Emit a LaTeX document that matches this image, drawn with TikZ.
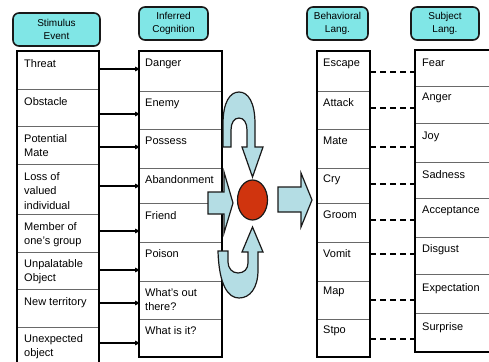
\documentclass[tikz,border=0pt]{standalone}
\usepackage{fontspec}
\setmainfont{Liberation Sans}
\usetikzlibrary{arrows.meta,shapes.geometric}

\definecolor{headfill}{RGB}{128,230,230}
\definecolor{arrowfill}{RGB}{180,221,228}
\definecolor{dotred}{RGB}{208,52,14}
\definecolor{edge}{RGB}{25,25,25}
\definecolor{sepgray}{RGB}{105,105,105}

\tikzset{
  header/.style={draw=edge, line width=1.6pt, fill=headfill, rounded corners=6pt,
    align=center, inner sep=0pt, font=\fontsize{10}{12.5}\selectfont},
  colframe/.style={draw=black, line width=1.8pt},
  rowsep/.style={draw=sepgray, line width=0.8pt},
  entry/.style={anchor=north west, inner sep=0pt, align=left,
    font=\fontsize{11}{14.5}\selectfont},
  link/.style={line width=1.2pt, -{Triangle[length=5pt,width=4.5pt]}},
  pair/.style={line width=1.8pt, dash pattern=on 6pt off 4pt},
  blockarrow/.style={draw=edge, line width=1.2pt, fill=arrowfill, line join=miter},
}

\begin{document}
\begin{tikzpicture}[x=1pt,y=-1pt]
\useasboundingbox (0,0) rectangle (489,361);
\clip (0,0) rectangle (489,361);

% column headings
\node[header, minimum width=87pt, minimum height=33pt] (hstim) at (56.5,29.5) {Stimulus\\Event};
\node[header, minimum width=69pt, minimum height=33pt] (hcog)  at (173.5,23.5) {Inferred\\Cognition};
\node[header, minimum width=61pt, minimum height=33pt] (hbeh)  at (337.5,23.5) {Behavioral\\Lang.};
\node[header, minimum width=68pt, minimum height=33pt] (hsub)  at (445,23.5) {Subject\\Lang.};

% stimulus column
\foreach \y in {89,126,164,214,252,289,327} \draw[rowsep] (17,\y) -- (99,\y);
\draw[colframe] (17,365) -- (17,51) -- (99,51) -- (99,365);
\node[entry] (s1) at (24,59) {Threat};
\node[entry] (s2) at (24,97) {Obstacle};
\node[entry] (s3) at (24,134) {Potential\\Mate};
\node[entry] (s4) at (24,172) {Loss of\\valued\\individual};
\node[entry] (s5) at (24,222) {Member of\\one's group};
\node[entry] (s6) at (24,259) {Unpalatable\\Object};
\node[entry] (s7) at (24,297) {New territory};
\node[entry] (s8) at (24,334) {Unexpected\\object};

% inferred cognition column
\foreach \y in {91,129,168,203,242,281,319} \draw[rowsep] (139,\y) -- (222,\y);
\draw[colframe] (139,51) rectangle (222,357);
\node[entry] (c1) at (145,59) {Danger};
\node[entry] (c2) at (145,99) {Enemy};
\node[entry] (c3) at (145,137) {Possess};
\node[entry] (c4) at (145,175) {Abandonment};
\node[entry] (c5) at (145,211) {Friend};
\node[entry] (c6) at (145,249) {Poison};
\node[entry] (c7) at (145,288) {What's out\\there?};
\node[entry] (c8) at (145,326) {What is it?};

% behavioral language column
\foreach \y in {91,129,168,203,242,281,319} \draw[rowsep] (317,\y) -- (370,\y);
\draw[colframe] (317,51) rectangle (370,357);
\node[entry] (b1) at (323,59) {Escape};
\node[entry] (b2) at (323,98) {Attack};
\node[entry] (b3) at (323,137) {Mate};
\node[entry] (b4) at (323,175) {Cry};
\node[entry] (b5) at (323,211) {Groom};
\node[entry] (b6) at (323,249) {Vomit};
\node[entry] (b7) at (323,287) {Map};
\node[entry] (b8) at (323,326) {Stpo};

% subject language column
\foreach \y in {86,123,162,198,237,274,313} \draw[rowsep] (415,\y) -- (494,\y);
\draw[colframe] (494,50) -- (415,50) -- (415,352) -- (494,352);
\node[entry] (j1) at (422,59) {Fear};
\node[entry] (j2) at (422,93) {Anger};
\node[entry] (j3) at (422,132) {Joy};
\node[entry] (j4) at (422,170) {Sadness};
\node[entry] (j5) at (422,206) {Acceptance};
\node[entry] (j6) at (422,244) {Disgust};
\node[entry] (j7) at (422,283) {Expectation};
\node[entry] (j8) at (422,322) {Surprise};

% stimulus -> cognition links
\foreach \i/\y in {1/69,2/114,3/147,4/186,5/231,6/270,7/303,8/343} {
  \coordinate (sa\i) at (99,\y);
  \coordinate (ca\i) at (140,\y);
  \draw[link] (sa\i) -- (ca\i);
}

% behaviour <-> feeling pairings
\foreach \i/\y in {1/72,2/108,3/147,4/184,5/220,6/254,7/300,8/339} {
  \coordinate (ba\i) at (370,\y);
  \coordinate (ja\i) at (415,\y);
  \draw[pair] (ba\i) -- (ja\i);
}

% central appraisal: curved feedback arrows, inputs and output
\draw[blockarrow] (223,147) -- (223,124)
  .. controls (223,102) and (230,92) .. (239,92)
  .. controls (248,92) and (255,102) .. (255,124) -- (255,147) -- (263,147)
  -- (252.5,177) -- (242,147) -- (247,147) -- (247,130)
  .. controls (247,123) and (244,118) .. (239,118)
  .. controls (234,118) and (231,123) .. (231,130) -- (231,147) -- cycle;
\draw[blockarrow] (218,251) .. controls (219,285) and (228,298) .. (239,298)
  .. controls (250,298) and (258,288) .. (258,270) -- (258,252) -- (263,252)
  -- (252.5,227) -- (242,252) -- (248,252) -- (248,263)
  .. controls (248,269) and (244,273) .. (238,273)
  .. controls (232,273) and (228,268) .. (228,262) -- (228,251) -- cycle;
\draw[blockarrow] (208,192) -- (224,192) -- (224,172) -- (233,203)
  -- (224,233) -- (224,214) -- (208,214) -- cycle;
\draw[blockarrow] (278,187) -- (301,187) -- (301,173) -- (312,200)
  -- (301,227) -- (301,212) -- (278,212) -- cycle;
\node[ellipse, draw=edge, line width=1.2pt, fill=dotred, minimum width=30pt,
  minimum height=40pt, inner sep=0pt] (core) at (252.5,200) {};

\end{tikzpicture}
\end{document}
